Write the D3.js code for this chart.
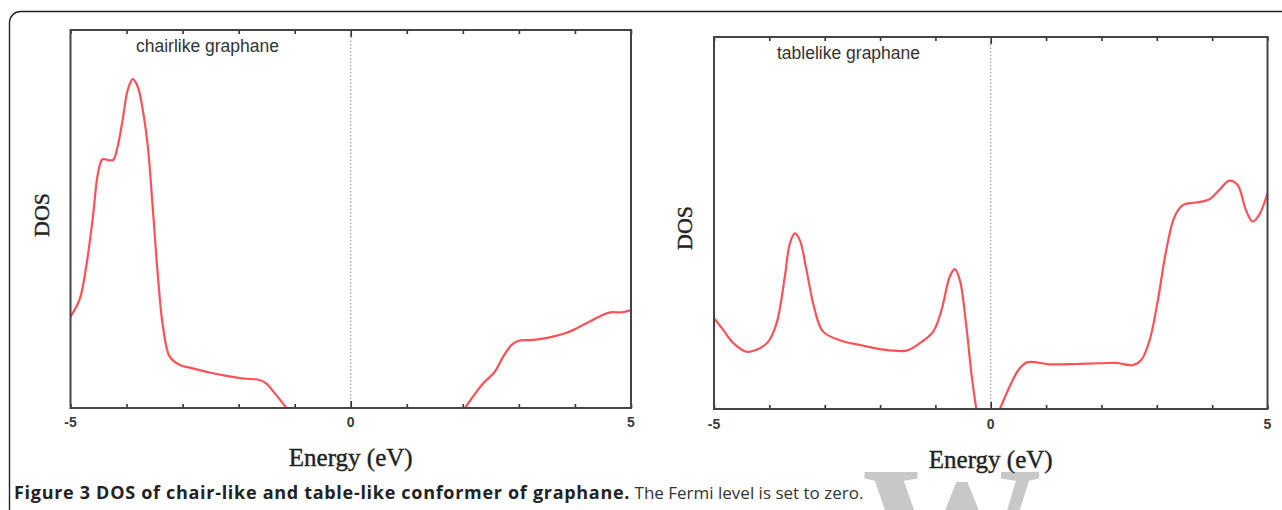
<!DOCTYPE html>
<html>
<head>
<meta charset="utf-8">
<script src="https://cdn.jsdelivr.net/npm/d3@7/dist/d3.min.js"></script>
<style>
  html, body { margin: 0; padding: 0; background: #fff; }
  svg { display: block; }
</style>
</head>
<body>
<svg id="fig" width="1282" height="510"></svg>
<script>
// Energy ticks (eV)
const energyTicks = [-5, -4, -3, -2, -1, 0, 1, 2, 3, 4, 5];
const energyLabels = ["-5", "0", "5"];

// Chair-like graphane: valence band (below the gap) and conduction band (above)
const chairValE   = [-5.0, -4.84, -4.72, -4.60, -4.51, -4.43, -4.33, -4.24, -4.16, -4.07, -3.98, -3.89, -3.80, -3.71, -3.62, -3.53, -3.44, -3.35, -3.23, -3.05, -2.82, -2.52, -2.22, -1.92, -1.63, -1.51, -1.33, -1.12];
const chairValDOS = [2.42, 2.86, 3.74, 5.06, 6.21, 6.58, 6.56, 6.56, 6.91, 7.62, 8.41, 8.70, 8.50, 7.88, 6.91, 5.24, 3.47, 2.15, 1.36, 1.14, 1.05, 0.94, 0.85, 0.78, 0.74, 0.65, 0.34, -0.05];
const chairConE   = [2.04, 2.18, 2.36, 2.57, 2.72, 2.87, 2.99, 3.26, 3.55, 3.85, 4.15, 4.45, 4.63, 4.83, 5.0];
const chairConDOS = [0.0, 0.30, 0.65, 0.96, 1.36, 1.67, 1.78, 1.80, 1.87, 1.99, 2.20, 2.43, 2.53, 2.53, 2.59];

// Table-like graphane
const tableValE   = [-5.0, -4.83, -4.65, -4.41, -4.23, -4.02, -3.87, -3.72, -3.63, -3.54, -3.45, -3.33, -3.18, -3.03, -2.73, -2.36, -2.00, -1.52, -1.28, -1.04, -0.89, -0.74, -0.65, -0.56, -0.44, -0.35, -0.26];
const tableValDOS = [2.44, 2.12, 1.77, 1.54, 1.59, 1.81, 2.30, 3.56, 4.45, 4.72, 4.54, 3.74, 2.66, 2.08, 1.85, 1.72, 1.61, 1.57, 1.77, 2.08, 2.66, 3.56, 3.76, 3.47, 2.21, 0.96, -0.02];
const tableConE   = [0.16, 0.34, 0.52, 0.67, 1.07, 1.55, 1.97, 2.27, 2.57, 2.72, 2.87, 3.02, 3.17, 3.32, 3.47, 3.71, 3.95, 4.13, 4.31, 4.46, 4.61, 4.73, 4.85, 5.0];
const tableConDOS = [-0.02, 0.60, 1.09, 1.26, 1.20, 1.21, 1.23, 1.24, 1.18, 1.32, 1.85, 2.93, 4.27, 5.17, 5.48, 5.55, 5.64, 5.89, 6.14, 6.02, 5.35, 5.04, 5.22, 5.80];

const svg = d3.select("#fig");

// Watermark (drawn first so everything else sits over it)
svg.append("text")
  .attr("x", 952).attr("y", 590)
  .attr("text-anchor", "middle")
  .attr("font-family", "Liberation Serif, serif")
  .attr("font-size", 180).attr("font-weight", "bold")
  .attr("fill", "#c8c8c8")
  .text("W");

// Outer rounded frame around the figure
svg.append("rect")
  .attr("x", 9.5).attr("y", 11.5)
  .attr("width", 1300).attr("height", 540)
  .attr("rx", 11).attr("ry", 11)
  .attr("fill", "none").attr("stroke", "#222").attr("stroke-width", 1.4);

const panels = [
  { id: "chair", title: "chairlike graphane", x0: 70.5, x1: 631, y0: 30, y1: 408,
    titleX: 136, titleY: 52, dosX: 49, dosY: 215, labelY: 427, energyY: 466,
    series: [[chairValE, chairValDOS], [chairConE, chairConDOS]] },
  { id: "table", title: "tablelike graphane", x0: 714, x1: 1267.5, y0: 37, y1: 409,
    titleX: 777, titleY: 59, dosX: 692, dosY: 228, labelY: 429, energyY: 468,
    series: [[tableValE, tableValDOS], [tableConE, tableConDOS]] }
];

panels.forEach(p => {
  const x = d3.scaleLinear().domain([-5, 5]).range([p.x0, p.x1]);
  const y = d3.scaleLinear().domain([0, 10]).range([p.y1, p.y0]);
  const g = svg.append("g");

  g.append("clipPath").attr("id", "clip-" + p.id)
    .append("rect").attr("x", p.x0).attr("y", p.y0)
    .attr("width", p.x1 - p.x0).attr("height", p.y1 - p.y0);

  // Fermi level marker
  g.append("line")
    .attr("x1", x(0)).attr("x2", x(0))
    .attr("y1", p.y0).attr("y2", p.y1)
    .attr("stroke", "#888").attr("stroke-width", 1)
    .attr("stroke-dasharray", "1.5,2");

  // DOS curves
  const line = d3.line()
    .x(d => x(d[0])).y(d => y(d[1]))
    .curve(d3.curveCatmullRom.alpha(0.5));
  p.series.forEach(([es, ds]) => {
    g.append("path")
      .datum(es.map((e, i) => [e, ds[i]]))
      .attr("clip-path", "url(#clip-" + p.id + ")")
      .attr("d", line)
      .attr("fill", "none")
      .attr("stroke", "#ff5257")
      .attr("stroke-width", 2.2)
      .attr("stroke-linejoin", "round");
  });

  // Bottom and top axes with inward ticks
  const bottom = d3.axisBottom(x).tickValues(energyTicks)
    .tickSize(0).tickFormat("");
  const top = d3.axisTop(x).tickValues(energyTicks)
    .tickSize(0).tickFormat("");
  const bg = g.append("g").attr("transform", `translate(0,${p.y1})`).call(bottom);
  const tg = g.append("g").attr("transform", `translate(0,${p.y0})`).call(top);
  [bg, tg].forEach(a => a.select(".domain").remove());
  bg.selectAll(".tick line")
    .attr("y2", d => (d === 0 ? -7 : -4))
    .attr("stroke", "#333").attr("stroke-width", 1.6);
  tg.selectAll(".tick line")
    .attr("y2", d => (d === 0 ? 7 : 4))
    .attr("stroke", "#333").attr("stroke-width", 1.6);

  // Frame
  g.append("rect")
    .attr("x", p.x0).attr("y", p.y0)
    .attr("width", p.x1 - p.x0).attr("height", p.y1 - p.y0)
    .attr("fill", "none").attr("stroke", "#444").attr("stroke-width", 2);

  // Tick labels
  g.selectAll("text.tl").data(energyLabels).enter().append("text")
    .attr("class", "tl")
    .attr("x", d => x(+d)).attr("y", p.labelY)
    .attr("text-anchor", "middle")
    .attr("font-family", "Liberation Sans, Arial, sans-serif")
    .attr("font-size", 14).attr("font-weight", "bold")
    .attr("fill", "#3a3a3a")
    .text(d => d);

  // Axis titles
  g.append("text")
    .attr("x", x(0)).attr("y", p.energyY)
    .attr("text-anchor", "middle")
    .attr("font-family", "Liberation Serif, Times New Roman, serif")
    .attr("font-size", 25).attr("fill", "#222")
    .attr("stroke", "#222").attr("stroke-width", 0.4)
    .text("Energy (eV)");
  g.append("text")
    .attr("transform", `translate(${p.dosX},${p.dosY}) rotate(-90)`)
    .attr("text-anchor", "middle")
    .attr("font-family", "Liberation Serif, Times New Roman, serif")
    .attr("font-size", 22).attr("fill", "#222")
    .attr("stroke", "#222").attr("stroke-width", 0.4)
    .text("DOS");

  // Panel title
  g.append("text")
    .attr("x", p.titleX).attr("y", p.titleY)
    .attr("font-family", "Liberation Sans, Arial, sans-serif")
    .attr("font-size", 17.5).attr("fill", "#333")
    .text(p.title);
});

// Caption
const cap = svg.append("text")
  .attr("x", 14).attr("y", 499)
  .attr("font-family", "Open Sans, Noto Sans, sans-serif")
  .attr("fill", "#222");
cap.append("tspan").attr("font-weight", "bold")
  .attr("font-size", 18).attr("letter-spacing", 0.7)
  .text("Figure 3 DOS of chair-like and table-like conformer of graphane.");
cap.append("tspan").attr("fill", "#333")
  .attr("font-size", 17)
  .text(" The Fermi level is set to zero.");
</script>
</body>
</html>
